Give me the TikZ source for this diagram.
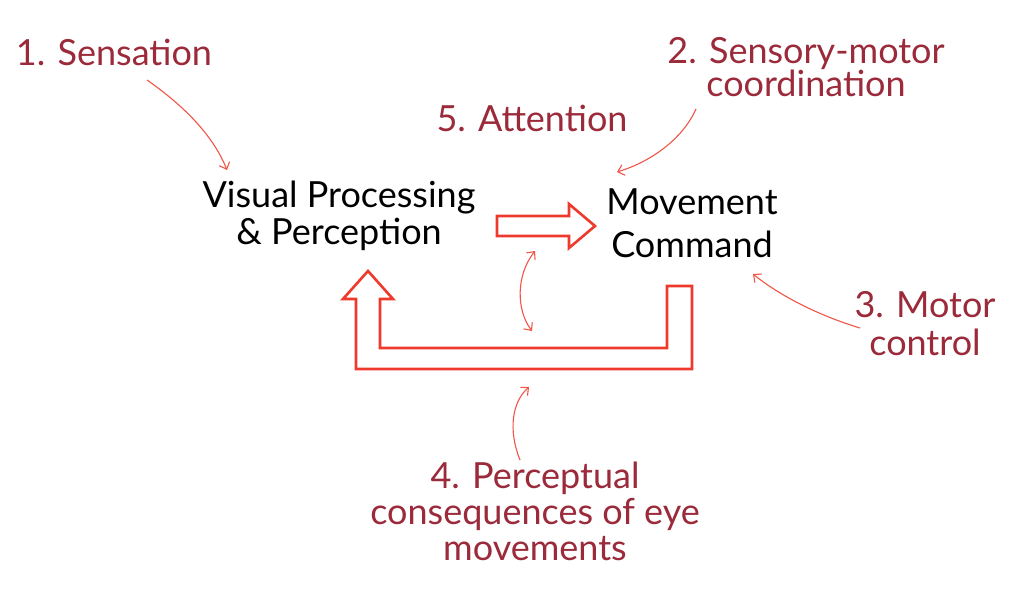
\documentclass[tikz,border=0pt]{standalone}
\usepackage{fontspec}
\setmainfont{Lato}
\usetikzlibrary{arrows.meta}
\definecolor{lblred}{HTML}{9B2A3A}
\definecolor{arrred}{HTML}{EE3A2C}
\definecolor{thinred}{HTML}{F05547}
\begin{document}
\begin{tikzpicture}[x=1pt,y=-1pt,
  lbl/.style={text=lblred, inner sep=0pt, align=center, anchor=base},
  blk/.style={text=black, inner sep=0pt, align=center, anchor=base},
  bigarrow/.style={draw=arrred, line width=2.6pt, line join=miter, fill=white},
  thinarrow/.style={draw=thinred, line width=1.1pt, -{Straight Barb[length=6pt,width=11pt]}},
  thinboth/.style={draw=thinred, line width=1.1pt, {Straight Barb[length=6pt,width=11pt]}-{Straight Barb[length=6pt,width=11pt]}},
]
\fill[white] (0,0) rectangle (1024,596);
\useasboundingbox (0,0) rectangle (1024,596);

% main nodes (anchor base = baseline of last line)
\node[blk, font=\fontsize{36}{37}\selectfont] (vis) at (339,244) {Visual Processing\\\& Perception};
\node[blk, font=\fontsize{36}{43}\selectfont] (mov) at (692,257) {Movement\\Command};

% labels
\node[lbl, font=\fontsize{36}{31}\selectfont] (sens) at (114,66) {1. Sensation};
\node[lbl, font=\fontsize{36}{31}\selectfont] (smc) at (806,97) {2. Sensory-motor\\coordination};
\node[lbl, font=\fontsize{36}{31}\selectfont] (att) at (532,132) {5. Attention};
\node[lbl, font=\fontsize{36}{38}\selectfont] (mot) at (925,355) {3. Motor\\control};
\node[lbl, font=\fontsize{36}{36}\selectfont] (perc) at (535,560) {4. Perceptual\\consequences of eye\\movements};

% big hollow arrow
\draw[bigarrow] (497,216) -- (569,216) -- (569,204) -- (595,226) -- (569,248) -- (569,236) -- (497,236) -- cycle;

% feedback loop
\draw[bigarrow] (667,286) -- (692,286) -- (692,369) -- (356,369) -- (356,299) -- (343,299) -- (368,271) -- (393,299) -- (380,299) -- (380,348) -- (667,348) -- cycle;

% thin connectors
\coordinate (s1) at (147,80);
\coordinate (e1) at (227,170);
\coordinate (s2) at (696,109);
\coordinate (e2) at (617,172);
\coordinate (s3) at (860,328);
\coordinate (e3) at (753,274);
\coordinate (s4) at (520,460);
\coordinate (e4) at (529,387);
\coordinate (s5) at (532,331);
\coordinate (e5) at (535,251);

\draw[thinarrow] (s1) .. controls (190,110) and (215,140) .. (e1);
\draw[thinarrow] (s2) .. controls (682,140) and (650,162) .. (e2);
\draw[thinarrow] (s3) .. controls (820,316) and (780,296) .. (e3);
\draw[thinarrow] (s4) .. controls (508,430) and (512,402) .. (e4);
\draw[thinboth] (s5) .. controls (516,310) and (516,275) .. (e5);
\end{tikzpicture}
\end{document}
